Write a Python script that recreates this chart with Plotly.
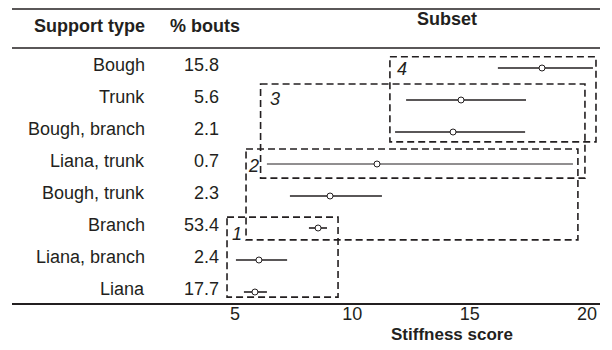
import plotly.graph_objects as go

# ---- data ----
support_types = ["Bough", "Trunk", "Bough, branch", "Liana, trunk",
                 "Bough, trunk", "Branch", "Liana, branch", "Liana"]
pct_bouts = ["15.8", "5.6", "2.1", "0.7", "2.3", "53.4", "2.4", "17.7"]
mean_stiff = [18.08, 14.63, 14.29, 11.05, 9.05, 8.54, 6.02, 5.85]
low_stiff = [16.20, 12.29, 11.82, 6.36, 7.34, 8.15, 5.04, 5.38]
high_stiff = [20.25, 17.40, 17.36, 19.40, 11.26, 8.92, 7.22, 6.36]
tick_vals = [5, 10, 15, 20]

# subsets: label, x-extent, first/last row index
subset_labels = ["1", "2", "3", "4"]
subset_x0 = [4.66, 5.47, 6.09, 11.60]
subset_x1 = [9.39, 19.61, 19.91, 20.38]
subset_row0 = [5, 3, 1, 0]
subset_row1 = [7, 5, 3, 2]

# ---- figure ----
FONT = "Arial, Liberation Sans, sans-serif"
TXT = "#231f20"
rows = list(range(len(support_types)))

fig = go.Figure()
for i in rows:
    fig.add_trace(go.Scatter(
        x=[mean_stiff[i]], y=[i], mode="markers",
        marker=dict(symbol="circle", size=6, color="white",
                    line=dict(color="#231f20", width=1)),
        error_x=dict(type="data", symmetric=False,
                     array=[high_stiff[i] - mean_stiff[i]],
                     arrayminus=[mean_stiff[i] - low_stiff[i]],
                     width=0, thickness=1.0 if i == 3 else 1.6,
                     color="#231f20"),
        showlegend=False, hoverinfo="skip"))

shapes = []
pads_top = {"1": 0.34, "2": 0.47, "3": 0.50, "4": 0.35}
pads_bot = {"1": 0.16, "2": 0.37, "3": 0.44, "4": 0.31}
lab_pos = {"1": (5.09, 5.19), "2": (5.77, 3.06), "3": (6.70, 0.97), "4": (12.12, 0.03)}
annotations = []
for k, lab in enumerate(subset_labels):
    shapes.append(dict(type="rect", xref="x", yref="y",
                       x0=subset_x0[k], x1=subset_x1[k],
                       y0=subset_row0[k] - pads_top[lab], y1=subset_row1[k] + pads_bot[lab],
                       line=dict(color="#231f20", width=1.6, dash="7px,4px"),
                       fillcolor="rgba(0,0,0,0)"))
    lx, ly = lab_pos[lab]
    annotations.append(dict(x=lx, y=ly, xref="x", yref="y", text="<i>%s</i>" % lab,
                            showarrow=False, xanchor="center", yanchor="middle",
                            font=dict(family=FONT, size=18, color=TXT)))

# table rules
shapes.append(dict(type="line", xref="paper", yref="paper", x0=0, x1=1, y0=1, y1=1,
                   line=dict(color="#231f20", width=1.6)))
shapes.append(dict(type="line", xref="paper", yref="y", x0=0, x1=1, y0=-0.625, y1=-0.625,
                   line=dict(color="#231f20", width=1.6)))

LAB_X = (147 - 12) / 588
VAL_X = (221 - 12) / 588
for i in rows:
    annotations.append(dict(x=LAB_X, y=i - 0.1, xref="paper", yref="y", text=support_types[i],
                            showarrow=False, xanchor="right", yanchor="middle",
                            font=dict(family=FONT, size=18, color=TXT)))
    annotations.append(dict(x=VAL_X, y=i - 0.1, xref="paper", yref="y", text=pct_bouts[i],
                            showarrow=False, xanchor="right", yanchor="middle",
                            font=dict(family=FONT, size=18, color=TXT)))

annotations += [
    dict(x=LAB_X, y=-1.30, xref="paper", yref="y", text="<b>Support type</b>",
         showarrow=False, xanchor="right", yanchor="middle",
         font=dict(family=FONT, size=18, color=TXT)),
    dict(x=(205 - 12) / 588, y=-1.30, xref="paper", yref="y", text="<b>% bouts</b>",
         showarrow=False, xanchor="center", yanchor="middle",
         font=dict(family=FONT, size=18, color=TXT)),
    dict(x=(447 - 12) / 588, y=-1.52, xref="paper", yref="y", text="<b>Subset</b>",
         showarrow=False, xanchor="center", yanchor="middle",
         font=dict(family=FONT, size=18, color=TXT)),
    dict(x=(452 - 12) / 588, y=(303 - 334) / 294, xref="paper", yref="paper",
         text="<b>Stiffness score</b>", showarrow=False, xanchor="center", yanchor="middle",
         font=dict(family=FONT, size=17, color=TXT)),
]

# page has an 8px body margin: figure is placed at (8, 8)
fig.update_layout(
    width=596, height=342,
    margin=dict(l=4, r=4, t=1, b=47),
    paper_bgcolor="white", plot_bgcolor="white",
    shapes=shapes, annotations=annotations,
    xaxis=dict(range=[-4.501, 20.551], tickvals=tick_vals, ticks="",
               showgrid=False, zeroline=False, showline=True,
               linecolor="#231f20", linewidth=1.6, ticklabelstandoff=-6,
               tickfont=dict(family=FONT, size=18, color=TXT)),
    yaxis=dict(range=[7.34375, -1.84375], showticklabels=False, ticks="",
               showgrid=False, zeroline=False, showline=False),
)

fig.write_html("out.html")
